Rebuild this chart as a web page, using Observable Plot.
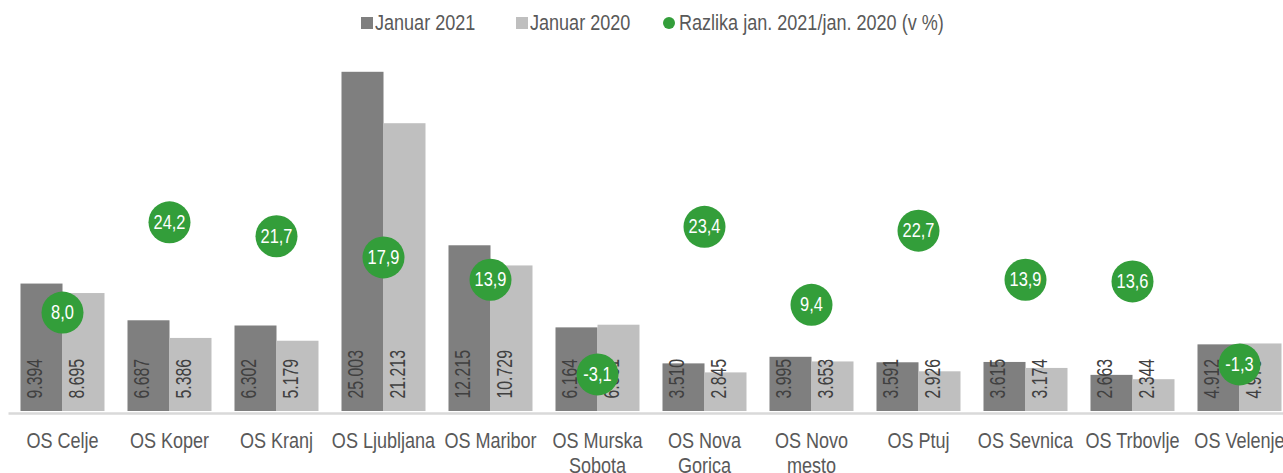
<!DOCTYPE html>
<html><head><meta charset="utf-8">
<script src="https://cdn.jsdelivr.net/npm/d3@7"></script>
<script src="https://cdn.jsdelivr.net/npm/@observablehq/plot@0.6"></script>
<style>
html,body{margin:0;padding:0;overflow:hidden;background:#fff;width:1283px;height:473px}
#wrap{position:relative;width:1283px;height:473px;overflow:hidden}
#wrap svg{position:absolute;left:0;top:0;max-width:none!important;background:transparent!important}
#legend{position:absolute;top:0;left:0;width:1283px;height:40px;font-family:"Liberation Sans",Arial,sans-serif;font-size:22px;color:#595959;z-index:2}
.li{position:absolute;top:10px;display:flex;align-items:center;white-space:nowrap;line-height:26px}
.sw{width:12px;height:12px;margin-right:2px;flex:none}
.dot{width:12px;height:12px;border-radius:50%;margin-right:4px;flex:none}
.lt{display:inline-block;transform:scaleX(0.82);transform-origin:0 50%}
</style></head>
<body><div id="wrap"><div id="legend"></div></div>
<script>
const categories = ["OS Celje","OS Koper","OS Kranj","OS Ljubljana","OS Maribor","OS Murska Sobota","OS Nova Gorica","OS Novo mesto","OS Ptuj","OS Sevnica","OS Trbovlje","OS Velenje"];
const tickLabels = ["OS Celje","OS Koper","OS Kranj","OS Ljubljana","OS Maribor","OS Murska\nSobota","OS Nova\nGorica","OS Novo\nmesto","OS Ptuj","OS Sevnica","OS Trbovlje","OS Velenje"];
const series = ["Januar 2021","Januar 2020"];
const jan2021 = [9394,6687,6302,25003,12215,6164,3510,3995,3591,3615,2663,4912];
const jan2020 = [8695,5386,5179,21213,10729,6361,2845,3653,2926,3174,2344,4979];
const changePct = [8.0,24.2,21.7,17.9,13.9,-3.1,23.4,9.4,22.7,13.9,13.6,-1.3];
const pctLabel = "Razlika jan. 2021/jan. 2020 (v %)";
const barColors = ["#7f7f7f","#bfbfbf"];
const green = "#339e3a";
const yDomain = [0, 30000];
const pctDomain = [-9.75, 63.3];

const loc = d3.formatLocale({decimal: ",", thousands: ".", grouping: [3], currency: ["", " €"], minus: "-"});
const fmtVal = loc.format(",d");
const fmtPct = loc.format(".1f");

const rows = categories.flatMap((c, i) => [
  {cat: c, series: series[0], value: jan2021[i]},
  {cat: c, series: series[1], value: jan2020[i]}
]);
const dots = categories.map((c, i) => ({cat: c, pct: changePct[i]}));

const font = '"Liberation Sans",Arial,sans-serif';
const common = {
  width: 1293, height: 473,
  marginLeft: 8.5, marginRight: 0, marginTop: 4, marginBottom: 62,
  style: {background: "transparent", maxWidth: "none", fontFamily: font, overflow: "visible"}
};

const bars = Plot.plot({
  ...common,
  facet: {data: rows, x: "cat"},
  fx: {domain: categories, paddingInner: 0.206, paddingOuter: 0.103, axis: null, label: null},
  x: {domain: series, padding: 0, axis: null},
  y: {domain: yDomain, axis: null},
  color: {domain: series, range: barColors},
  marks: [
    Plot.barY(rows, {x: "series", y: "value", fill: "series"}),
    Plot.text(rows, {x: "series", frameAnchor: "bottom", text: d => fmtVal(d.value), rotate: -90,
      textAnchor: "start", dy: -13, fill: "#404040", fontSize: 22})
  ]
});

const overlay = Plot.plot({
  ...common,
  x: {domain: categories, paddingInner: 0.206, paddingOuter: 0.103, axis: null},
  y: {domain: pctDomain, axis: null},
  marks: [
    Plot.ruleY([pctDomain[0]], {stroke: "#d9d9d9", strokeWidth: 2.6, dy: 2}),
    Plot.text(categories, {x: d => d, frameAnchor: "bottom", text: (d, i) => tickLabels[i],
      dy: 19, lineAnchor: "top", lineHeight: 1.14, fontSize: 22, fill: "#595959"}),
    Plot.dot(dots, {x: "cat", y: "pct", r: 21, fill: green, stroke: "none"}),
    Plot.text(dots, {x: "cat", y: "pct", text: d => fmtPct(d.pct), fill: "white", fontSize: 20})
  ]
});

const wrap = document.getElementById("wrap");
wrap.appendChild(bars);
wrap.appendChild(overlay);

// condensed look: compress glyphs along the text direction
function squeeze(svg, k) {
  svg.querySelectorAll("text").forEach(t => {
    const spans = t.querySelectorAll("tspan");
    const targets = spans.length ? Array.from(spans) : [t];
    targets.forEach(el => {
      const L = el.getComputedTextLength();
      if (L > 0) {
        el.setAttribute("textLength", (L * k).toFixed(2));
        el.setAttribute("lengthAdjust", "spacingAndGlyphs");
      }
    });
  });
}
squeeze(bars, 0.72);
squeeze(overlay, 0.82);

const legend = document.getElementById("legend");
const items = [
  {left: 361, label: series[0], kind: "sw", color: barColors[0]},
  {left: 516, label: series[1], kind: "sw", color: barColors[1]},
  {left: 663, label: pctLabel, kind: "dot", color: green}
];
for (const it of items) {
  const el = document.createElement("div");
  el.className = "li";
  el.style.left = it.left + "px";
  const m = document.createElement("span");
  m.className = it.kind;
  m.style.background = it.color;
  const t = document.createElement("span");
  t.className = "lt";
  t.textContent = it.label;
  el.appendChild(m); el.appendChild(t);
  legend.appendChild(el);
}
</script>
</body></html>
